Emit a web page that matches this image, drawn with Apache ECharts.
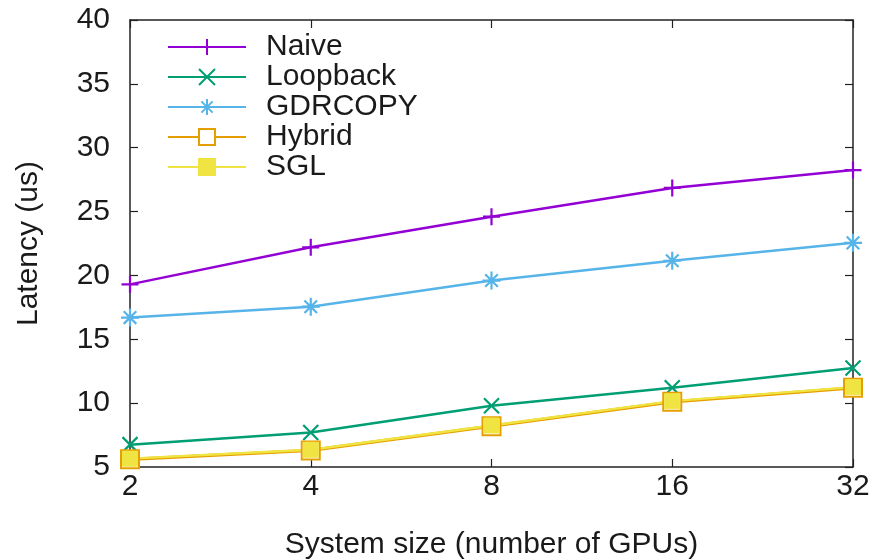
<!DOCTYPE html>
<html><head><meta charset="utf-8">
<script src="https://cdn.jsdelivr.net/npm/echarts@6/dist/echarts.min.js"></script>
<style>html,body{margin:0;padding:0;background:#fff}#c{width:877px;height:560px}</style>
</head><body><div id="c"></div>
<script>
const categories = ['2', '4', '8', '16', '32'];
const yTicks = [5, 10, 15, 20, 25, 30, 35, 40];
const naive = [19.3, 22.2, 24.6, 26.85, 28.25];
const loopback = [6.75, 7.7, 9.8, 11.2, 12.75];
const gdrcopy = [16.7, 17.55, 19.6, 21.15, 22.55];
const hybrid = [5.6, 6.3, 8.2, 10.1, 11.2];
const sgl = [5.65, 6.35, 8.25, 10.15, 11.25];

const FONT = '"Liberation Sans", Arial, sans-serif';
const FS = 30;
const TXT = '#1a1a1a';
const chart = echarts.init(document.getElementById('c'), null, {renderer: 'canvas'});
const P_PLUS = 'path://M0,5L10,5M5,0L5,10';
const P_X = 'path://M0,0L10,10M0,10L10,0';
const P_AST = 'path://M0,5L10,5M5,0L5,10M1.5,1.5L8.5,8.5M1.5,8.5L8.5,1.5';

function mk(name, data, color, symbol, size, extra) {
  return Object.assign({
    name, type: 'line', data, symbol, symbolSize: size,
    showAllSymbol: true,
    lineStyle: {color, width: 2.5},
    itemStyle: {color, borderColor: color, borderWidth: 2.2},
    emphasis: {disabled: true},
    animation: false, z: 3
  }, extra || {});
}

const series = [
  mk('Naive', naive, '#9400d3', P_PLUS, 17),
  mk('Loopback', loopback, '#009e73', P_X, 15),
  mk('GDRCOPY', gdrcopy, '#56b4e9', P_AST, 18),
  mk('Hybrid', hybrid, '#e69f00', 'emptyRect', 18, {
    itemStyle: {color: '#e69f00', borderColor: '#e69f00', borderWidth: 2}, lineStyle: {color: '#e69f00', width: 3.2}
  }),
  mk('SGL', sgl, '#f0e442', 'rect', 15, {
    itemStyle: {color: '#f0e442', borderColor: '#f0e442', borderWidth: 1}, lineStyle: {color: '#f0e442', width: 2.3}
  })
];

const axisLineStyle = {color: '#222', width: 1.5};
chart.setOption({
  animation: false,
  grid: {left: 130, right: 24, top: 20, bottom: 93, containLabel: false, outerBoundsMode: 'none'},
  legend: {
    left: 167, top: 32, orient: 'vertical', padding: 0,
    itemWidth: 78, itemHeight: 20, itemGap: 0,
    textStyle: {fontFamily: FONT, fontSize: FS, color: TXT, lineHeight: 28, padding: [0, 0, 0, 15]},
    data: ['Naive', 'Loopback', 'GDRCOPY', 'Hybrid', 'SGL'],
    selectedMode: false
  },
  xAxis: [{
    type: 'category', data: categories, boundaryGap: false,
    name: 'System size (number of GPUs)', nameLocation: 'middle', nameGap: 63,
    nameTextStyle: {fontFamily: FONT, fontSize: FS, color: TXT},
    axisLine: {lineStyle: axisLineStyle},
    axisTick: {inside: true, length: 8, lineStyle: {color: '#222', width: 1.2}},
    axisLabel: {fontFamily: FONT, fontSize: FS, color: TXT, margin: 5},
    splitLine: {show: false}
  }, {
    type: 'category', data: categories, boundaryGap: false, position: 'top',
    axisLine: {lineStyle: axisLineStyle},
    axisTick: {inside: true, length: 8, lineStyle: {color: '#222', width: 1.2}},
    axisLabel: {show: false}, splitLine: {show: false}
  }],
  yAxis: [{
    type: 'value', min: 5, max: 40, interval: 5,
    name: 'Latency (us)', nameLocation: 'middle', nameGap: 86,
    nameTextStyle: {fontFamily: FONT, fontSize: FS, color: TXT},
    axisLine: {show: true, lineStyle: axisLineStyle},
    axisTick: {show: true, inside: true, length: 8, lineStyle: {color: '#222', width: 1.2}},
    axisLabel: {fontFamily: FONT, fontSize: FS, color: TXT, margin: 20,
      formatter: v => yTicks.includes(v) ? String(v) : ''},
    splitLine: {show: false}
  }, {
    type: 'value', min: 5, max: 40, interval: 5, position: 'right',
    axisLine: {show: true, lineStyle: axisLineStyle},
    axisTick: {show: true, inside: true, length: 8, lineStyle: {color: '#222', width: 1.2}},
    axisLabel: {show: false}, splitLine: {show: false}
  }],
  series
});
</script></body></html>
